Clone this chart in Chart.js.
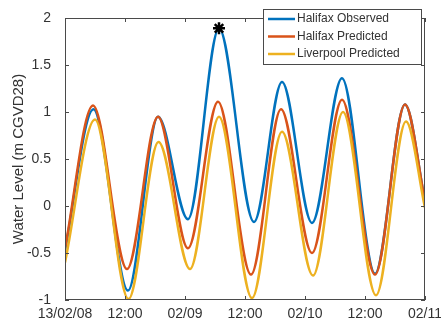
<!DOCTYPE html>
<html>
<head>
<meta charset="utf-8">
<script src="https://cdn.jsdelivr.net/npm/chart.js@4"></script>
<style>
  html, body { margin: 0; padding: 0; background: #fff; }
  #wrap { width: 441px; height: 328px; }
</style>
</head>
<body>
<div id="wrap"><canvas id="myChart" width="441" height="328"></canvas></div>
<script>
// hours since 13/02/08 00:00 (peaks, troughs, ends)
const obsHours = [0, 5.7, 12.6, 18.6, 24.6, 30.8, 37.8, 43.4, 49.4, 55.4, 62.0, 68.0, 72];
const obsLevel = [-0.47, 1.03, -0.9, 0.95, -0.14, 1.89, -0.17, 1.32, -0.18, 1.36, -0.72, 1.08, 0.05];

const predHours = [0, 5.6, 12.4, 18.6, 24.6, 30.6, 37.2, 43.2, 49.4, 55.4, 62.0, 68.0, 72];
const predLevel = [-0.45, 1.07, -0.67, 0.95, -0.45, 1.11, -0.73, 1.03, -0.5, 1.13, -0.73, 1.08, 0.05];

const livHours = [0, 6.0, 12.7, 18.7, 25.0, 30.8, 37.4, 43.4, 49.6, 55.6, 62.2, 68.2, 72];
const livLevel = [-0.6, 0.92, -0.99, 0.68, -0.67, 0.95, -0.98, 0.79, -0.74, 1.0, -0.95, 0.9, -0.02];

const peakHour = [30.8];
const peakLevel = [1.89];

const xTickLabels = ['13/02/08', '12:00', '02/09', '12:00', '02/10', '12:00', '02/11'];
const yTicks = [-1, -0.5, 0, 0.5, 1, 1.5, 2];

function toPoints(xs, ys) {
    return xs.map((x, i) => ({ x: x, y: ys[i] }));
}

const axisColor = '#4a4a4a';
const textColor = '#333333';
const fontFamily = '"Liberation Sans", Arial, sans-serif';

// box around the axes with small inward ticks, like the original plot
const boxPlugin = {
    id: 'box',
    afterDatasetsDraw(chart) {
        const ctx = chart.ctx;
        const a = chart.chartArea;
        const xs = chart.scales.x;
        const ys = chart.scales.y;
        ctx.save();
        ctx.strokeStyle = axisColor;
        ctx.lineWidth = 1;
        ctx.strokeRect(a.left + 0.5, a.top + 0.5, a.right - a.left - 1, a.bottom - a.top - 1);
        ctx.beginPath();
        for (let h = 0; h <= 72; h += 12) {
            const px = Math.round(xs.getPixelForValue(h)) + 0.5;
            ctx.moveTo(px, a.bottom); ctx.lineTo(px, a.bottom - 4);
            ctx.moveTo(px, a.top); ctx.lineTo(px, a.top + 4);
        }
        yTicks.forEach((v) => {
            const py = Math.round(ys.getPixelForValue(v)) + 0.5;
            ctx.moveTo(a.left, py); ctx.lineTo(a.left + 4, py);
            ctx.moveTo(a.right, py); ctx.lineTo(a.right - 4, py);
        });
        ctx.stroke();
        ctx.restore();
    }
};

// legend box drawn inside the top right corner
const legendPlugin = {
    id: 'boxLegend',
    afterDraw(chart) {
        const ctx = chart.ctx;
        const items = chart.data.datasets.filter((d) => d.label);
        const x0 = 263, y0 = 9, w = 158, h = 55;
        ctx.save();
        ctx.fillStyle = '#fff';
        ctx.fillRect(x0, y0, w, h);
        ctx.strokeStyle = axisColor;
        ctx.lineWidth = 1;
        ctx.strokeRect(x0 + 0.5, y0 + 0.5, w, h);
        ctx.font = '12px ' + fontFamily;
        ctx.textBaseline = 'middle';
        items.forEach((d, i) => {
            const y = y0 + 10 + i * 17.5;
            ctx.strokeStyle = d.borderColor;
            ctx.lineWidth = 2.5;
            ctx.beginPath();
            ctx.moveTo(x0 + 5, y);
            ctx.lineTo(x0 + 32, y);
            ctx.stroke();
            ctx.fillStyle = textColor;
            ctx.fillText(d.label, x0 + 34, y);
        });
        ctx.restore();
    }
};

const lineStyle = {
    showLine: true,
    pointRadius: 0,
    borderWidth: 2.5,
    cubicInterpolationMode: 'monotone'
};

const ctx = document.getElementById('myChart').getContext('2d');
const chart = new Chart(ctx, { //eslint-disable-line
    type: 'scatter',
    data: {
        datasets: [
            Object.assign({ label: 'Halifax Observed', data: toPoints(obsHours, obsLevel), borderColor: '#0072BD', order: 3 }, lineStyle),
            Object.assign({ label: 'Halifax Predicted', data: toPoints(predHours, predLevel), borderColor: '#D95319', order: 2 }, lineStyle),
            Object.assign({ label: 'Liverpool Predicted', data: toPoints(livHours, livLevel), borderColor: '#EDB120', order: 1 }, lineStyle),
            {
                label: '',
                data: toPoints(peakHour, peakLevel),
                pointStyle: 'star',
                pointRadius: 6,
                borderColor: '#000',
                backgroundColor: '#000',
                borderWidth: 2.5,
                showLine: false,
                order: 0
            }
        ]
    },
    options: {
        responsive: false,
        animation: false,
        layout: { padding: { top: 18, right: 16, left: 0, bottom: 0 } },
        plugins: { legend: { display: false }, tooltip: { enabled: false } },
        scales: {
            x: {
                type: 'linear',
                min: 0,
                max: 72,
                afterBuildTicks: (scale) => {
                    scale.ticks = xTickLabels.map((t, i) => ({ value: i * 12 }));
                },
                afterFit: (scale) => {
                    scale.height = 28;
                    scale.paddingLeft = 0;
                    scale.paddingRight = 0;
                },
                ticks: {
                    autoSkip: false,
                    maxRotation: 0,
                    padding: 6,
                    color: textColor,
                    font: { family: fontFamily, size: 14 },
                    callback: (v) => xTickLabels[Math.round(v / 12)]
                },
                grid: { display: false, drawTicks: false },
                border: { display: false }
            },
            y: {
                min: -1,
                max: 2,
                afterBuildTicks: (scale) => {
                    scale.ticks = yTicks.map((v) => ({ value: v }));
                },
                afterFit: (scale) => {
                    scale.width = 65;
                    scale.paddingTop = 0;
                    scale.paddingBottom = 0;
                },
                ticks: {
                    padding: 6,
                    color: textColor,
                    font: { family: fontFamily, size: 14 },
                    callback: (v) => String(v)
                },
                title: {
                    display: true,
                    text: 'Water Level (m CGVD28)',
                    color: textColor,
                    padding: { top: 10, bottom: 0 },
                    font: { family: fontFamily, size: 15 }
                },
                grid: { display: false },
                border: { display: false }
            }
        }
    },
    plugins: [boxPlugin, legendPlugin]
});
</script>
</body>
</html>
